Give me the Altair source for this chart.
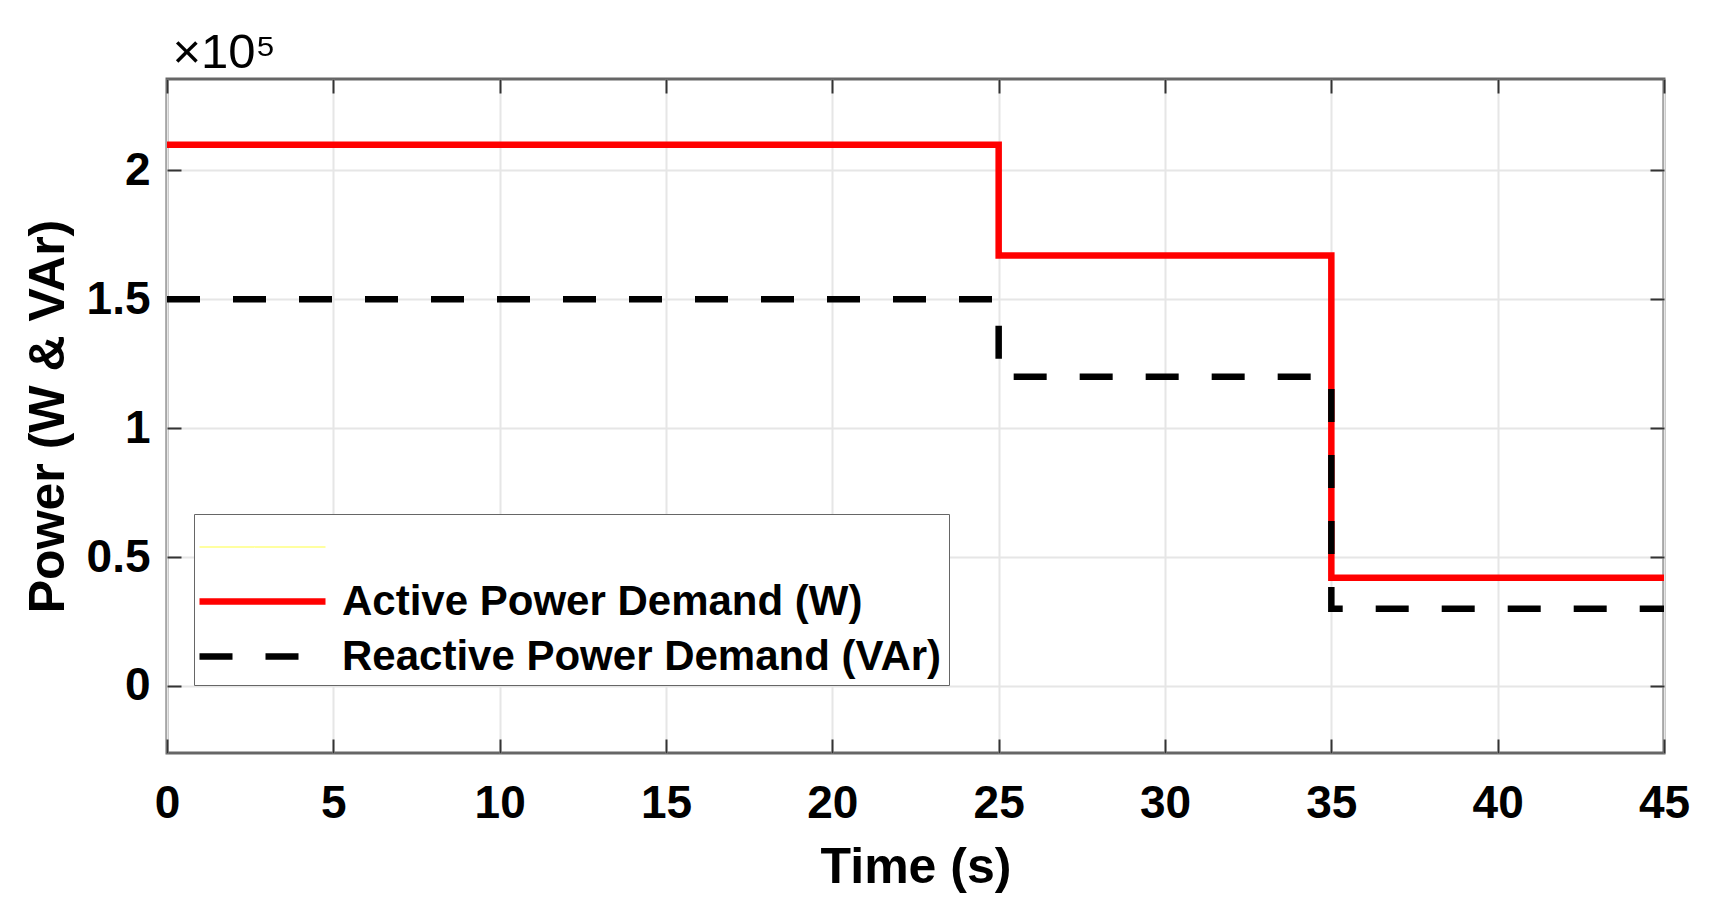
import altair as alt
import pandas as pd

# ---- data ----
time_s = [0, 25, 35, 45]
active_w = [210000, 167000, 42000, 42000]
reactive_var = [150000, 120000, 30000, 30000]

series_names = [" ", "Active Power Demand (W)", "Reactive Power Demand (VAr)"]
series_colors = ["#ffffa0", "#ff0000", "#000000"]
series_dash = [[1, 0], [1, 0], [33, 33]]
series_widths = [2, 6.5, 6.5]

x_ticks = [0, 5, 10, 15, 20, 25, 30, 35, 40, 45]
y_ticks = [0, 50000, 100000, 150000, 200000]
x_domain = [0, 45]
y_domain = [-26000, 235500]

rows = []
for t, v in zip(time_s, active_w):
    rows.append({"t": t, "value": v, "series": series_names[1]})
for t, v in zip(time_s, reactive_var):
    rows.append({"t": t, "value": v, "series": series_names[2]})
df = pd.DataFrame(rows)

FONT = "Liberation Sans"

xscale = alt.Scale(domain=x_domain, nice=False, zero=False)
yscale = alt.Scale(domain=y_domain, nice=False, zero=False)

legend = alt.Legend(
    title=None,
    orient="none",
    legendX=27,
    legendY=435,
    direction="vertical",
    fillColor="white",
    strokeColor="#666666",
    padding=7,
    rowPadding=5,
    symbolType="M-1.2,0H3.84",
    symbolSize=2500,
    labelOffset=84,
    labelFont=FONT,
    labelFontSize=42,
    labelFontWeight="bold",
    labelColor="black",
    labelLimit=2000,
)

line = alt.Chart(df).mark_line(
    interpolate="step-after", strokeCap="butt", clip=True
).encode(
    x=alt.X(
        "t:Q",
        scale=xscale,
        axis=alt.Axis(
            orient="bottom", values=x_ticks, title="Time (s)", offset=-14, tickSize=14,
            domain=False, grid=True, labelPadding=28, titlePadding=16, labelFlush=False,
        ),
    ),
    y=alt.Y(
        "value:Q",
        scale=yscale,
        axis=alt.Axis(
            orient="left", values=y_ticks, title="Power (W & VAr)", offset=-14, tickSize=14,
            domain=False, grid=True, labelPadding=17, titlePadding=13, labelFlush=False,
            labelExpr="'' + (datum.value / 100000)",
        ),
    ),
    color=alt.Color("series:N", scale=alt.Scale(domain=series_names, range=series_colors), legend=legend),
    strokeDash=alt.StrokeDash("series:N", scale=alt.Scale(domain=series_names, range=series_dash), legend=legend),
    strokeWidth=alt.StrokeWidth(
        "series:N", scale=alt.Scale(type="ordinal", domain=series_names, range=series_widths), legend=legend
    ),
)

frame = alt.Chart(df).mark_point(opacity=0).encode(
    x=alt.X(
        "t:Q", scale=xscale, title="×10⁵",
        axis=alt.Axis(orient="top", values=x_ticks, labels=False, offset=-14,
                      tickSize=14, domain=False, grid=False,
                      titleX=5, titleY=-26, titleAlign="left", titleBaseline="alphabetic",
                      titleAngle=0, titleFontSize=49, titleFontWeight="normal"),
    ),
    y=alt.Y(
        "value:Q", scale=yscale, title=None,
        axis=alt.Axis(orient="right", values=y_ticks, labels=False, offset=-14,
                      tickSize=14, domain=False, grid=False),
    ),
)

chart = alt.layer(line, frame).resolve_axis(x="independent", y="independent").properties(
    width=1497,
    height=674,
    background="white",
    autosize=alt.AutoSizeParams(type="none"),
    padding={"left": 159, "top": 71, "right": 43, "bottom": 150},
).configure_view(
    stroke="#666666", strokeWidth=3
).configure_axis(
    labelFont=FONT, labelFontSize=46, labelFontWeight="bold", labelColor="black",
    titleFont=FONT, titleFontSize=50, titleFontWeight="bold", titleColor="black",
    tickColor="#333333", tickWidth=2, gridColor="#e6e6e6", gridWidth=2,
)

chart.save("out.html", embed_options={"renderer": "svg", "actions": False})
